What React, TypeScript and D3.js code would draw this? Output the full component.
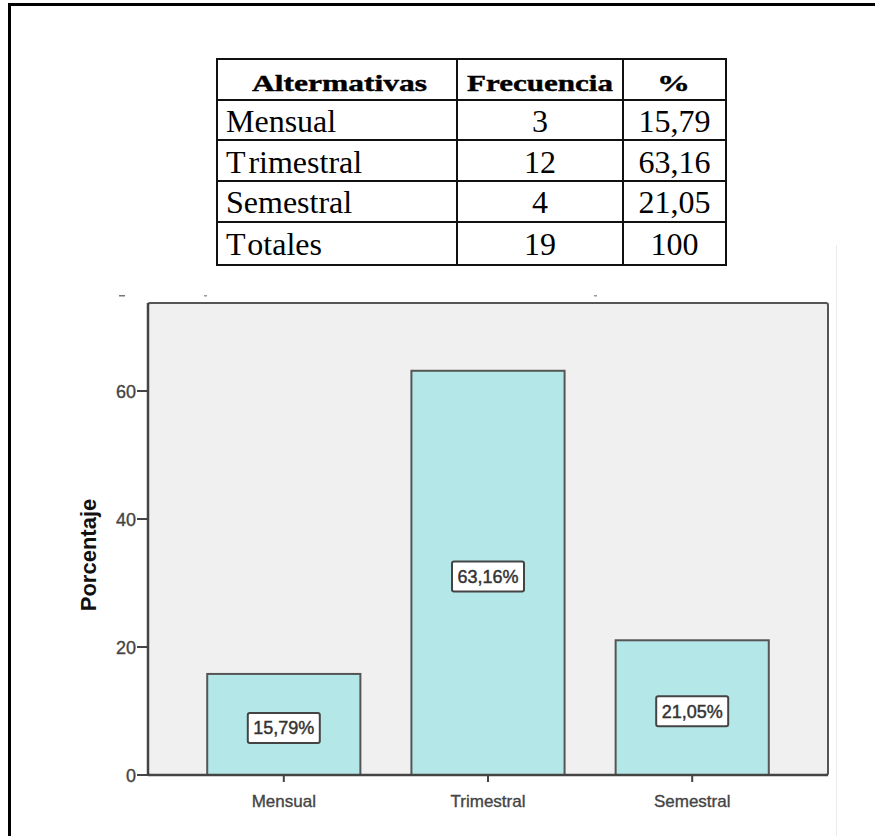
import React from "react";
import * as d3 from "d3";

const tableHeaders = ["Altermativas", "Frecuencia", "%"];
const categories = ["Mensual", "Trimestral", "Semestral"];
const frequencies = [3, 12, 4];
const percentages = [15.79, 63.16, 21.05];
const totalLabel = "Totales";
const totalFrequency = 19;
const totalPercent = 100;
const yTicks = [0, 20, 40, 60];
const yTitle = "Porcentaje";

const W = 875;
const H = 836;

const fmtComma = (v: number) => d3.format(".2f")(v).replace(".", ",");

function SplitT({ label }: { label: string }) {
  // reproduce the loose kerning after a leading "T" seen in the reference
  if (label.startsWith("T")) {
    return (
      <>
        <tspan>T</tspan>
        <tspan dx={4}>{label.slice(1)}</tspan>
      </>
    );
  }
  return <>{label}</>;
}

export default function App() {
  const pL = 148, pR = 828, pT = 303, pB = 775;
  const y = d3.scaleLinear().domain([0, 73.75]).range([pB, pT]);
  const x = d3
    .scaleBand<string>()
    .domain(categories)
    .range([pL, pR])
    .paddingInner(0.25)
    .paddingOuter(0.29);

  const colX = [217, 457, 623, 726];
  const rowY = [59, 100, 140, 181, 222, 265];
  const headerW = [175, 146, 33];
  const headerCx = [339.5, 540, 673.5];
  const baselines = [132, 173, 213, 255];

  const rows = [
    ...categories.map((c, i) => [c, String(frequencies[i]), fmtComma(percentages[i])]),
    [totalLabel, String(totalFrequency), String(totalPercent)],
  ];

  const chartFont = "'Liberation Sans', Arial, sans-serif";
  const tableFont = "'Liberation Serif', 'Times New Roman', serif";

  return (
    <svg
      width={W}
      height={H}
      style={{ position: "absolute", left: 0, top: 0, display: "block" }}
    >
      <rect x={0} y={0} width={W} height={H} fill="#ffffff" />
      <rect x={8} y={3} width={W - 8} height={3} fill="#000" />
      <rect x={8} y={3} width={3} height={H - 3} fill="#000" />
      <line x1={836.5} x2={836.5} y1={245} y2={H} stroke="#ececec" strokeWidth={1} />

      {/* table */}
      <g>
        {colX.map((cx, i) => (
          <line key={"c" + i} x1={cx} x2={cx} y1={rowY[0]} y2={rowY[rowY.length - 1]} stroke="#111" strokeWidth={2} />
        ))}
        {rowY.map((ry, i) => (
          <line key={"r" + i} x1={colX[0] - 1} x2={colX[3] + 1} y1={ry} y2={ry} stroke="#111" strokeWidth={2} />
        ))}
        {tableHeaders.map((h, i) => (
          <text
            key={h}
            x={headerCx[i] - headerW[i] / 2}
            y={91}
            fontFamily={tableFont}
            fontWeight="bold"
            fontSize={24}
            textLength={headerW[i]}
            lengthAdjust="spacingAndGlyphs"
            fill="#000"
            stroke="#000"
            strokeWidth={0.4}
          >
            {h}
          </text>
        ))}
        {rows.map((r, ri) => (
          <g key={"row" + ri} fontFamily={tableFont} fontSize={32} fill="#000">
            <text x={226} y={baselines[ri]}><SplitT label={r[0]} /></text>
            <text x={540} y={baselines[ri]} textAnchor="middle">{r[1]}</text>
            <text x={674.5} y={baselines[ri]} textAnchor="middle">{r[2]}</text>
          </g>
        ))}
      </g>

      {/* remnants of cropped labels above chart */}
      <rect x={119} y={295} width={6} height={1.5} fill="#777" />
      <rect x={204} y={295} width={3} height={1.5} fill="#999" />
      <rect x={594} y={295} width={3} height={1.5} fill="#999" />

      <rect x={pL} y={pT} width={pR - pL} height={pB - pT} fill="#f0f0f0" stroke="#555" strokeWidth={2} rx={2} />

      {categories.map((c, i) => (
        <rect
          key={c}
          x={x(c)!}
          y={y(percentages[i])}
          width={x.bandwidth()}
          height={y(0) - y(percentages[i])}
          fill="#b4e7e7"
          stroke="#555"
          strokeWidth={2}
        />
      ))}

      {categories.map((c, i) => {
        const cx = x(c)! + x.bandwidth() / 2;
        const cy = (y(percentages[i]) + y(0)) / 2 + 3.5;
        return (
          <g key={"lab" + c}>
            <rect x={cx - 36} y={cy - 15} width={72} height={30} fill="#fff" stroke="#444" strokeWidth={2} rx={2} />
            <text
              x={cx}
              y={cy + 6.5}
              textAnchor="middle"
              fontFamily={chartFont}
              fontSize={18}
              fill="#333"
              stroke="#333"
              strokeWidth={0.45}
            >
              {fmtComma(percentages[i]) + "%"}
            </text>
          </g>
        );
      })}

      <line x1={pL} x2={pL} y1={pT} y2={pB} stroke="#444" strokeWidth={2.5} />
      {yTicks.map((t) => (
        <g key={"yt" + t}>
          <line x1={pL - 11} x2={pL} y1={y(t)} y2={y(t)} stroke="#444" strokeWidth={2} />
          <text
            x={pL - 12}
            y={y(t) + 6.5}
            textAnchor="end"
            fontFamily={chartFont}
            fontSize={18}
            fill="#444"
            stroke="#444"
            strokeWidth={0.35}
          >
            {t}
          </text>
        </g>
      ))}
      <text
        transform={`translate(96,555) rotate(-90)`}
        textAnchor="middle"
        fontFamily={chartFont}
        fontWeight="bold"
        fontSize={22}
        fill="#111"
      >
        {yTitle}
      </text>

      <line x1={pL} x2={pR} y1={pB} y2={pB} stroke="#444" strokeWidth={2.5} />
      {categories.map((c) => {
        const cx = x(c)! + x.bandwidth() / 2;
        return (
          <g key={"xt" + c}>
            <line x1={cx} x2={cx} y1={pB} y2={pB + 7} stroke="#444" strokeWidth={2} />
            <text
              x={cx}
              y={807}
              textAnchor="middle"
              fontFamily={chartFont}
              fontSize={17}
              fill="#444"
              stroke="#444"
              strokeWidth={0.35}
            >
              {c}
            </text>
          </g>
        );
      })}
    </svg>
  );
}
